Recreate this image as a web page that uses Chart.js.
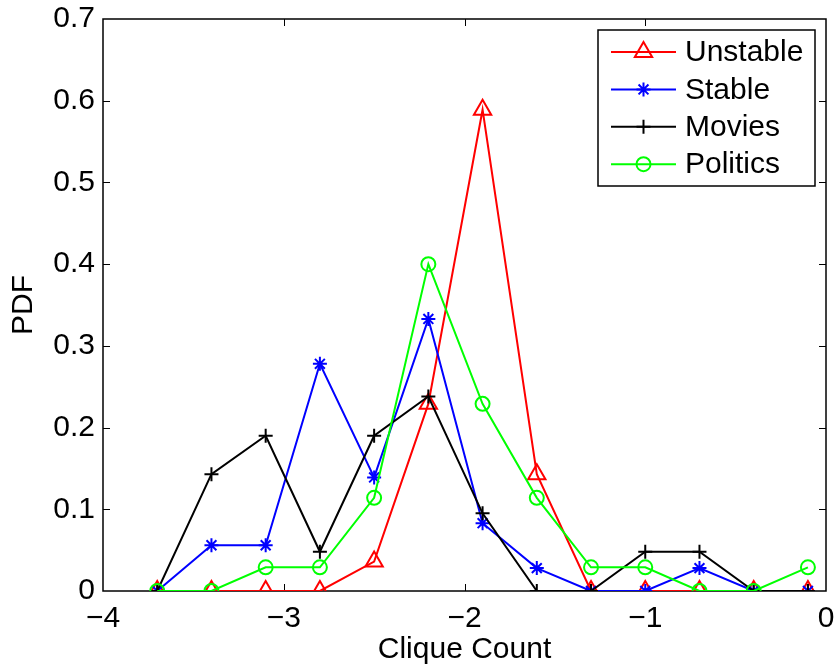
<!DOCTYPE html>
<html>
<head>
<meta charset="utf-8">
<script src="https://cdn.jsdelivr.net/npm/chart.js@4/dist/chart.umd.min.js"></script>
<style>
  body { margin: 0; background: #fff; }
</style>
</head>
<body>
<canvas id="chart" width="838" height="671"></canvas>
<script>
/*=================================
      data
=================================*/
const binCenters = [-3.7, -3.4, -3.1, -2.8, -2.5, -2.2, -1.9, -1.6, -1.3, -1.0, -0.7, -0.4, -0.1];
const unstable = [0, 0, 0, 0, 0.036, 0.229, 0.589, 0.143, 0, 0, 0, 0, 0];
const stable = [0, 0.056, 0.056, 0.278, 0.139, 0.333, 0.083, 0.028, 0, 0, 0.028, 0, 0];
const movies = [0, 0.143, 0.19, 0.048, 0.19, 0.238, 0.095, 0, 0, 0.048, 0.048, 0, 0];
const politics = [0, 0, 0.029, 0.029, 0.114, 0.4, 0.229, 0.114, 0.029, 0.029, 0, 0, 0.029];
const seriesNames = ["Unstable", "Stable", "Movies", "Politics"];
const xTickLabels = ["\u22124", "\u22123", "\u22122", "\u22121", "0"];
const yTickLabels = ["0", "0.1", "0.2", "0.3", "0.4", "0.5", "0.6", "0.7"];

const FONT = "'Liberation Sans', Arial, Helvetica, sans-serif";

function toPoints(values) {
  return binCenters.map((x, i) => ({ x: x, y: values[i] }));
}

function series(label, values, color, style, radius, order) {
  return {
    label: label,
    data: toPoints(values),
    borderColor: color,
    backgroundColor: "rgba(0,0,0,0)",
    borderWidth: 2,
    pointStyle: style,
    pointRadius: radius,
    pointBorderColor: color,
    pointBackgroundColor: "rgba(0,0,0,0)",
    pointBorderWidth: 2,
    showLine: true,
    order: order,
  };
}

/*=================================
      axes box + inner ticks
=================================*/
const boxPlugin = {
  id: "box",
  beforeDatasetsDraw(chart) {
    const { ctx, chartArea: a, scales } = chart;
    const len = 7;
    ctx.save();
    ctx.strokeStyle = "#000";
    ctx.lineWidth = 1.5;
    ctx.strokeRect(a.left, a.top, a.right - a.left, a.bottom - a.top);
    ctx.lineWidth = 1;
    ctx.beginPath();
    scales.x.ticks.forEach((t) => {
      const px = Math.round(scales.x.getPixelForValue(t.value)) + 0.5;
      if (px <= a.left + 1 || px >= a.right - 1) return;
      ctx.moveTo(px, a.bottom);
      ctx.lineTo(px, a.bottom - len);
      ctx.moveTo(px, a.top);
      ctx.lineTo(px, a.top + len);
    });
    scales.y.ticks.forEach((t) => {
      const py = Math.round(scales.y.getPixelForValue(t.value)) + 0.5;
      if (py <= a.top + 1 || py >= a.bottom - 1) return;
      ctx.moveTo(a.left, py);
      ctx.lineTo(a.left + len, py);
      ctx.moveTo(a.right, py);
      ctx.lineTo(a.right - len, py);
    });
    ctx.stroke();
    ctx.restore();
  },
};

/*=================================
      legend box (top right)
=================================*/
const legendPlugin = {
  id: "boxLegend",
  afterDraw(chart) {
    const { ctx, chartArea: a } = chart;
    const w = 217, h = 156;
    const x0 = a.right - 11 - w;
    const y0 = a.top + 11;
    ctx.save();
    ctx.fillStyle = "#fff";
    ctx.fillRect(x0, y0, w, h);
    ctx.strokeStyle = "#000";
    ctx.lineWidth = 1.5;
    ctx.strokeRect(x0, y0, w, h);

    const byName = {};
    chart.data.datasets.forEach((d) => (byName[d.label] = d));
    seriesNames.forEach((name, i) => {
      const d = byName[name];
      const cy = y0 + 22 + i * 37.4;
      ctx.strokeStyle = d.borderColor;
      ctx.lineWidth = 2;
      ctx.beginPath();
      ctx.moveTo(x0 + 13, cy);
      ctx.lineTo(x0 + 78, cy);
      ctx.stroke();
      ctx.fillStyle = "rgba(0,0,0,0)";
      Chart.helpers.drawPoint(ctx, {
        pointStyle: d.pointStyle,
        radius: d.pointRadius,
        borderWidth: 2,
        rotation: 0,
      }, x0 + 45.5, cy);
      ctx.fillStyle = "#000";
      ctx.font = "30px " + FONT;
      ctx.textBaseline = "middle";
      ctx.textAlign = "left";
      ctx.fillText(name, x0 + 87, cy + 1);
    });
    ctx.restore();
  },
};

new Chart("chart", {
  type: "scatter",
  data: {
    datasets: [
      series(seriesNames[0], unstable, "#ff0000", "triangle", 10, 4),
      series(seriesNames[1], stable, "#0000ff", "star", 7, 3),
      series(seriesNames[2], movies, "#000000", "cross", 7, 2),
      series(seriesNames[3], politics, "#00ff00", "circle", 7, 1),
    ],
  },
  options: {
    responsive: false,
    animation: false,
    layout: { padding: { top: 19, right: 11, left: 0, bottom: 0 } },
    plugins: {
      legend: { display: false },
      tooltip: { enabled: false },
    },
    scales: {
      x: {
        type: "linear",
        min: -4,
        max: 0,
        grid: { display: false, drawTicks: false },
        border: { display: false },
        ticks: {
          stepSize: 1,
          padding: 10,
          color: "#000",
          font: { family: FONT, size: 30 },
          maxRotation: 0,
          callback: (v, i) => xTickLabels[i],
        },
        title: {
          display: true,
          text: "Clique Count",
          color: "#000",
          font: { family: FONT, size: 30 },
          padding: { top: 0, bottom: 3 },
        },
        afterFit: (scale) => {
          scale.height = 80;
          scale.paddingLeft = 0;
          scale.paddingRight = 0;
        },
      },
      y: {
        min: 0,
        max: 0.7,
        grid: { display: false, drawTicks: false },
        border: { display: false },
        ticks: {
          stepSize: 0.1,
          padding: 8,
          color: "#000",
          font: { family: FONT, size: 30 },
          callback: (v, i) => yTickLabels[i],
        },
        title: {
          display: true,
          text: "PDF",
          color: "#000",
          font: { family: FONT, size: 30 },
          padding: { top: 6, bottom: 0 },
        },
        afterFit: (scale) => {
          scale.width = 103;
          scale.paddingTop = 0;
          scale.paddingBottom = 0;
        },
      },
    },
  },
  plugins: [boxPlugin, legendPlugin],
});
</script>
</body>
</html>
